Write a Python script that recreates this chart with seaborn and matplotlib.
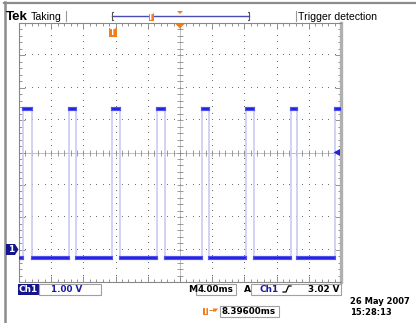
import numpy as np
import pandas as pd
import matplotlib
matplotlib.use("Agg")
import matplotlib.pyplot as plt
import seaborn as sns
from matplotlib.patches import Rectangle, Polygon
from matplotlib.lines import Line2D

rise_ms = [-19.47, -13.81, -8.40, -2.87, 2.70, 8.20, 13.77, 19.22]
fall_ms = [-18.43, -12.90, -7.41, -1.92, 3.57, 9.14, 14.59]
high_v = 4.33
low_v = -0.27
ms_per_div = 4.0
v_per_div = 1.0
center_v = 3.0
ch_label = "Ch1"
scale_label = "1.00 V"
time_label = "4.00ms"
trig_label = "3.02 V"
offset_label = "8.39600ms"
date_label = "26 May 2007"
clock_label = "15:28:13"

W, H = 416, 323
fig = plt.figure(figsize=(W / 100, H / 100), dpi=100)
fig.patch.set_facecolor("white")

def fx(x):
    return x / W

def fy(y):
    return 1 - y / H

ax = fig.add_axes([fx(19), fy(282), (341 - 19) / W, (282 - 23) / H])
ax.set_facecolor("white")
x0, x1 = -5 * ms_per_div, 5 * ms_per_div
y0, y1 = center_v - 4 * v_per_div, center_v + 4 * v_per_div
ax.set_xlim(x0, x1)
ax.set_ylim(y0, y1)

# ---------------- graticule ----------------
maj_x = np.arange(x0, x1 + 1e-9, ms_per_div)
maj_y = np.arange(y0, y1 + 1e-9, v_per_div)
min_x = np.arange(x0, x1 + 1e-9, ms_per_div / 5)
min_y = np.arange(y0, y1 + 1e-9, v_per_div / 5)
gx, gy = [], []
for mx in maj_x[1:-1]:
    if abs(mx) < 1e-9:
        continue
    gx += [mx] * len(min_y[1:-1]); gy += list(min_y[1:-1])
for my in maj_y[1:-1]:
    if abs(my - center_v) < 1e-9:
        continue
    gx += list(min_x[1:-1]); gy += [my] * len(min_x[1:-1])
ax.plot(gx, gy, ls="none", marker=",", color="#6e6e6e", zorder=1)
ax.axhline(center_v, color="#a8a8a8", lw=0.5, zorder=1)
ax.axvline(0, color="#a8a8a8", lw=0.5, zorder=1)
ax.plot(min_x, [center_v] * len(min_x), ls="none", marker="|", ms=4.0, mew=0.6, color="#8a8a8a", zorder=1)
ax.plot([0] * len(min_y), min_y, ls="none", marker="_", ms=4.0, mew=0.6, color="#8a8a8a", zorder=1)

ax.set_xticks(maj_x); ax.set_xticks(min_x, minor=True)
ax.set_yticks(maj_y); ax.set_yticks(min_y, minor=True)
ax.tick_params(which="both", direction="in", top=True, right=True, bottom=True, left=True,
               labelbottom=False, labelleft=False, color="#808080", width=0.6)
ax.tick_params(which="major", length=4.0)
ax.tick_params(which="minor", length=2.5)
for s in ["left", "top", "bottom"]:
    ax.spines[s].set_color("#888888"); ax.spines[s].set_linewidth(0.8)
ax.spines["right"].set_color("#b0b0b0"); ax.spines["right"].set_linewidth(2.4)

# ---------------- waveform ----------------
t, v = [x0], [low_v]
for i, r in enumerate(rise_ms):
    t += [r, r]; v += [low_v, high_v]
    if i < len(fall_ms):
        f = fall_ms[i]
        t += [f, f]; v += [high_v, low_v]
t.append(x1); v.append(high_v)
edges = pd.DataFrame({"t": t, "v": v})
sns.lineplot(data=edges, x="t", y="v", sort=False, estimator=None, color="#c6c6f4",
             lw=1.1, ax=ax, zorder=2, legend=False)

g = 0.12
rows = []
seg = 0
starts = [x0]
for i, r in enumerate(rise_ms):
    rows += [(seg, starts[-1] + (g if seg else 0), low_v), (seg, r - g, low_v)]; seg += 1
    if i < len(fall_ms):
        rows += [(seg, r + g, high_v), (seg, fall_ms[i] - g, high_v)]; seg += 1
        starts.append(fall_ms[i])
    else:
        rows += [(seg, r + g, high_v), (seg, x1, high_v)]; seg += 1
levels = pd.DataFrame(rows, columns=["seg", "t", "v"])
sns.lineplot(data=levels, x="t", y="v", units="seg", estimator=None, sort=False,
             color="#5252ee", lw=3.0, ax=ax, zorder=3, legend=False)
sns.lineplot(data=levels, x="t", y="v", units="seg", estimator=None, sort=False,
             color="#2020e0", lw=1.3, ax=ax, zorder=4, legend=False)
ax.set_xlabel(""); ax.set_ylabel("")

# ---------------- frame decorations ----------------
def rect(xa, ya, xb, yb, fc="white", ec="none", lw=0.8, z=5):
    fig.add_artist(Rectangle((fx(xa), fy(yb)), (xb - xa) / W, (yb - ya) / H,
                             transform=fig.transFigure, fc=fc, ec=ec, lw=lw, zorder=z))

def poly(pts, color, z=6):
    fig.add_artist(Polygon([(fx(a), fy(b)) for a, b in pts], closed=True,
                           transform=fig.transFigure, fc=color, ec="none", zorder=z))

def line(xs, ys, color, lw=1.0, z=5):
    fig.add_artist(Line2D([fx(a) for a in xs], [fy(b) for b in ys], color=color, lw=lw,
                          transform=fig.transFigure, zorder=z))

def txt(x, y, s, size=6.5, color="black", weight="normal", family="DejaVu Sans", ha="left", z=7):
    fig.text(fx(x), fy(y), s, fontsize=size, color=color, weight=weight, family=family,
             ha=ha, va="center", zorder=z)

orange = "#f07e1c"
navy = "#16168c"

def t_icon(cx, cy, w=7, h=9):
    rect(cx - w / 2, cy - h / 2, cx + w / 2, cy + h / 2, fc=orange, z=6)
    txt(cx, cy + 0.3, "T", size=5.5, color="white", weight="bold", ha="center")

line([4, W], [2.5, 2.5], "#8c8c8c", lw=1.6)
line([5, 5], [2, H], "#8c8c8c", lw=1.8)

txt(6, 16.5, "Tek", size=9.6, weight="bold", family="Liberation Sans")
txt(31, 16.5, "Taking", size=7.6, family="Liberation Sans")
line([66, 66], [11, 21], "#999999", lw=0.8)
line([296, 296], [11, 21], "#999999", lw=0.8)
txt(298, 16.5, "Trigger detection", size=7.6, family="Liberation Sans")

# trigger position bar
line([112, 249], [16, 16], "#4a4ab4", lw=1.0)
line([113.5, 112, 112, 113.5], [12, 12, 20, 20], "#555555", lw=0.8)
line([247.5, 249, 249, 247.5], [12, 12, 20, 20], "#555555", lw=0.8)
t_icon(151, 17, w=5, h=7)
poly([(177, 11), (183, 11), (180, 14)], orange)

# in-plot markers
t_icon(113, 32.5, w=8, h=9)
poly([(175.5, 24), (184.5, 24), (180, 28.5)], orange)
poly([(6, 244), (15, 244), (18.5, 249.5), (15, 255), (6, 255)], navy)
txt(11, 249.8, "1", size=6.5, color="white", weight="bold", ha="center")
poly([(333.5, 152.5), (340, 149), (340, 156)], "#2424d0")

# bottom readout
rect(18, 284, 38.5, 294.5, fc=navy, z=5)
txt(28.2, 289.5, ch_label, size=6.4, color="white", weight="bold", ha="center")
rect(39, 284, 101, 294.5, fc="white", ec="#a0a0a0", lw=0.8)
txt(51, 289.5, scale_label, size=6.3, color="#1a1aa8", weight="bold")

txt(188, 289.5, "M", size=6.6, weight="bold")
rect(196, 284, 236, 294.5, fc="white", ec="#a0a0a0", lw=0.8)
txt(197.5, 289.5, time_label, size=6.3, weight="bold")
txt(244, 289.5, "A", size=6.6, weight="bold")
rect(251, 284, 341, 294.5, fc="white", ec="#a0a0a0", lw=0.8)
txt(260, 289.5, ch_label, size=6.4, color="#1a1aa8", weight="bold")
line([283, 286, 288.5, 291], [292, 292, 286, 286], "black", lw=0.9, z=7)
txt(339, 289.5, trig_label, size=6.3, weight="bold", ha="right")

t_icon(205.5, 311, w=6, h=8)
txt(208.5, 310.5, "→", size=5.5, color=orange, weight="bold")
poly([(213, 308.5), (218, 308.5), (215.5, 312)], orange)
rect(220, 305.5, 279, 317, fc="white", ec="#a0a0a0", lw=0.8)
txt(221.5, 311.5, offset_label, size=6.3, weight="bold")

txt(350, 301.5, date_label, size=6.0, weight="bold")
txt(350, 312.5, clock_label, size=6.0, weight="bold")

fig.savefig("out.png", dpi=100, facecolor="white")
